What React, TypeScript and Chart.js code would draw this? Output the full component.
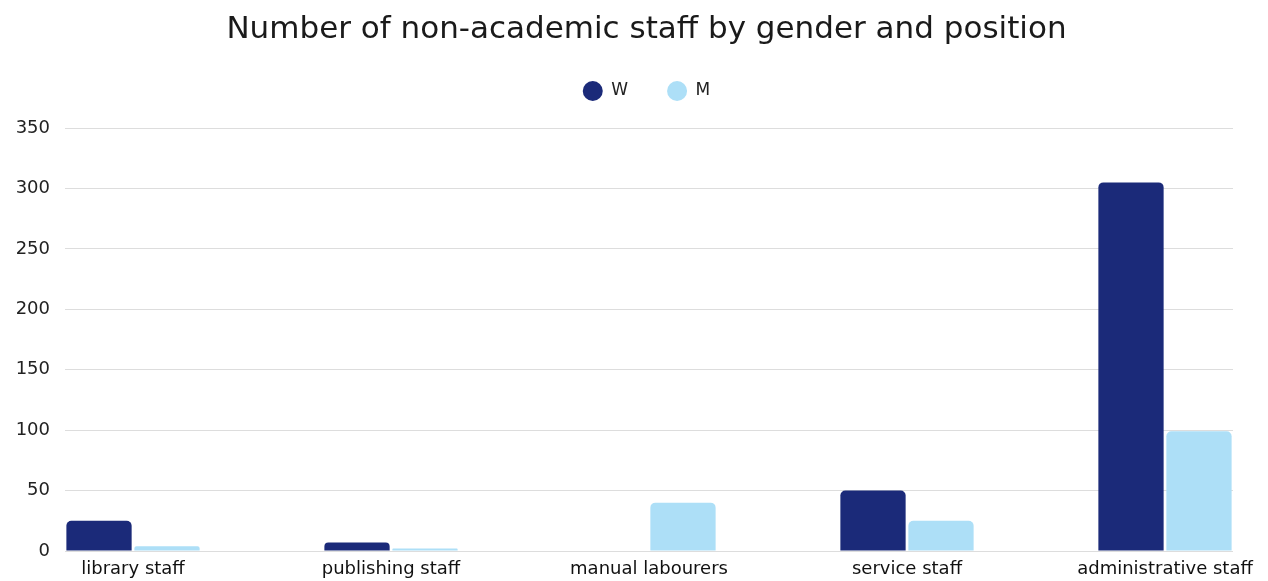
import React, { useEffect, useRef } from "react";
import { Chart, registerables } from "chart.js";

Chart.register(...registerables);

const categories = ["library staff", "publishing staff", "manual labourers", "service staff", "administrative staff"];
const women = [25, 7, 0, 50, 305];
const men = [4, 2, 40, 25, 99];
const seriesNames = ["W", "M"];
const yTicks = [0, 50, 100, 150, 200, 250, 300, 350];

const FONT = "'DejaVu Sans', sans-serif";

const headerShift = {
  id: "headerShift",
  afterInit(chart: any) {
    const legend = chart.legend;
    if (!legend) return;
    const orig = legend.fit.bind(legend);
    legend.fit = () => {
      orig();
      legend.height += 18.5;
    };
  },
  afterLayout(chart: any) {
    const dx = 30;
    for (const box of [chart.titleBlock, chart.legend]) {
      if (!box) continue;
      box.left += dx;
      box.right += dx;
    }
  },
};

export default function App() {
  const ref = useRef<HTMLCanvasElement | null>(null);

  useEffect(() => {
    document.body.style.margin = "0";
    const ctx = ref.current!.getContext("2d")!;
    const chart = new Chart(ctx, {
      type: "bar",
      data: {
        labels: categories,
        datasets: [
          {
            label: seriesNames[0],
            data: women,
            backgroundColor: "#1b2a79",
            borderRadius: 5,
            categoryPercentage: 0.527,
            barPercentage: 0.96,
          },
          {
            label: seriesNames[1],
            data: men,
            backgroundColor: "#addff7",
            borderRadius: 5,
            categoryPercentage: 0.527,
            barPercentage: 0.96,
          },
        ],
      },
      plugins: [headerShift],
      options: {
        animation: false,
        responsive: true,
        maintainAspectRatio: false,
        layout: { padding: { left: 0, right: 35, top: 0, bottom: 0 } },
        plugins: {
          title: {
            display: true,
            text: "Number of non-academic staff by gender and position",
            color: "#1a1a1a",
            font: { family: FONT, size: 31, weight: "normal", lineHeight: 1.0 },
            padding: { top: 14.5, bottom: -2 },
          },
          legend: {
            display: true,
            labels: {
              usePointStyle: true,
              pointStyle: "circle",
              pointStyleWidth: 20,
              boxHeight: 14,
              padding: 39,
              color: "#222",
              font: { family: FONT, size: 17 },
            },
          },
          tooltip: { enabled: false },
        },
        scales: {
          x: {
            grid: { display: false },
            border: { display: false },
            ticks: {
              color: "#111",
              font: { family: FONT, size: 18 },
              padding: 0,
              maxRotation: 0,
            },
            afterBuildTicks: (scale: any) => {
              const pad = 0.2636;
              scale._startValue = -pad;
              scale._valueRange = categories.length - 1 + 2 * pad;
            },
            afterFit: (scale: any) => {
              scale.height = 30;
            },
          },
          y: {
            min: 0,
            max: 350,
            afterBuildTicks: (scale: any) => {
              scale.ticks = yTicks.map((v) => ({ value: v }));
            },
            afterFit: (scale: any) => {
              scale.width = 65;
            },
            grid: { color: "#dddddd", drawTicks: false },
            border: { display: false },
            ticks: {
              color: "#222",
              font: { family: FONT, size: 18 },
              padding: 15,
            },
          },
        },
      },
    });
    return () => chart.destroy();
  }, []);

  return (
    <div style={{ width: 1268, height: 581, position: "relative" }}>
      <canvas ref={ref} />
    </div>
  );
}
